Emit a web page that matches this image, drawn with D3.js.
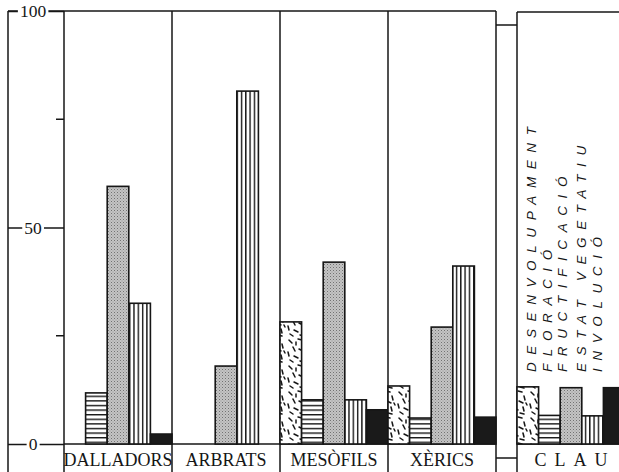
<!DOCTYPE html>
<html>
<head>
<meta charset="utf-8">
<script src="https://cdn.jsdelivr.net/npm/d3@7"></script>
<style>
  body { margin: 0; background: #fff; }
  svg { display: block; }
</style>
</head>
<body>
<script>
// Habitat groups and phenological stages (percentage of observations)
const groups = ["DALLADORS", "ARBRATS", "MESÒFILS", "XÈRICS"];
const stages = ["DESENVOLUPAMENT", "FLORACIÓ", "FRUCTIFICACIÓ", "ESTAT VEGETATIU", "INVOLUCIÓ"];

const desenvolupament = [0, 0, 28.2, 13.4];
const floracio        = [11.8, 0, 10.2, 6];
const fructificacio   = [59.5, 18, 42, 27];
const estatVegetatiu  = [32.5, 81.5, 10.2, 41.1];
const involucio       = [2.3, 0, 7.9, 6.2];

// Key panel: sample bar for each stage
const keyLabel = "CLAU";
const keyValues = [13.2, 6.6, 13, 6.5, 13];

const yTicks = [0, 50, 100];
const yMinorTicks = [25, 75];

const W = 619, H = 472;
const INK = "#161616";
const svg = d3.select("body").append("svg").attr("width", W).attr("height", H);

const series = [desenvolupament, floracio, fructificacio, estatVegetatiu, involucio];

const y = d3.scaleLinear().domain([0, 100]).range([444, 11]);
const xGroup = d3.scaleBand().domain(groups).range([64, 496]).padding(0);
const xStage = d3.scaleBand().domain(stages).range([0, xGroup.bandwidth()]).padding(0);
const keyX0 = 517;

// ---------- fill patterns ----------
const defs = svg.append("defs");

// scattered short dashes
const speck = defs.append("pattern").attr("id", "p0").attr("patternUnits", "userSpaceOnUse")
  .attr("width", 22).attr("height", 26);
speck.append("rect").attr("width", 22).attr("height", 26).attr("fill", "#fff");
const dashes = [
  [3, 2, 6, 5], [12, 1, 16, 2], [18, 6, 19, 10], [7, 9, 9, 13], [2, 14, 3, 18],
  [13, 11, 17, 13], [8, 18, 12, 20], [17, 17, 18, 21], [4, 22, 7, 24], [14, 23, 18, 24],
  [10, 4, 10, 7], [20, 13, 21, 15]
];
speck.selectAll("line").data(dashes).join("line")
  .attr("x1", d => d[0]).attr("y1", d => d[1]).attr("x2", d => d[2]).attr("y2", d => d[3])
  .attr("stroke", INK).attr("stroke-width", 1.5).attr("stroke-linecap", "round");

// horizontal hatching
const hor = defs.append("pattern").attr("id", "p1").attr("patternUnits", "userSpaceOnUse")
  .attr("width", 10).attr("height", 4.6);
hor.append("rect").attr("width", 10).attr("height", 4.6).attr("fill", "#fff");
hor.append("rect").attr("y", 0).attr("width", 10).attr("height", 1.4).attr("fill", INK);

// grey stipple
const grey = defs.append("pattern").attr("id", "p2").attr("patternUnits", "userSpaceOnUse")
  .attr("width", 3).attr("height", 3);
grey.append("rect").attr("width", 3).attr("height", 3).attr("fill", "#c4c4c4");
grey.append("rect").attr("x", 0).attr("y", 0).attr("width", 1).attr("height", 1).attr("fill", "#727272");
grey.append("rect").attr("x", 1.5).attr("y", 1.5).attr("width", 1).attr("height", 1).attr("fill", "#959595");

// vertical hatching
const ver = defs.append("pattern").attr("id", "p3").attr("patternUnits", "userSpaceOnUse")
  .attr("width", 4.3).attr("height", 10);
ver.append("rect").attr("width", 4.3).attr("height", 10).attr("fill", "#fff");
ver.append("rect").attr("x", 0).attr("width", 1.4).attr("height", 10).attr("fill", INK);

const fills = ["url(#p0)", "url(#p1)", "url(#p2)", "url(#p3)", "#1a1a1a"];

// ---------- frame ----------
const frame = svg.append("g").attr("stroke", INK).attr("stroke-width", 1.5).attr("fill", "none");

// panel dividers
const dividers = groups.map(g => xGroup(g)).concat([xGroup.range()[1]]);
frame.selectAll("line.div").data(dividers).join("line").attr("class", "div")
  .attr("x1", d => d).attr("x2", d => d).attr("y1", y(100)).attr("y2", H);
// top and baseline of main box
frame.append("line").attr("x1", 8).attr("x2", xGroup.range()[1]).attr("y1", y(100)).attr("y2", y(100));
frame.append("line").attr("x1", xGroup.range()[0]).attr("x2", xGroup.range()[1]).attr("y1", y(0)).attr("y2", y(0));

// key box
frame.append("line").attr("x1", keyX0).attr("x2", keyX0).attr("y1", y(100) + 1).attr("y2", H);
frame.append("line").attr("x1", keyX0).attr("x2", W).attr("y1", y(100) + 1).attr("y2", y(100) + 1);
frame.append("line").attr("x1", keyX0).attr("x2", W).attr("y1", y(0)).attr("y2", y(0));
// connectors between the boxes
frame.append("line").attr("x1", xGroup.range()[1]).attr("x2", keyX0).attr("y1", 25).attr("y2", 25);
frame.append("line").attr("x1", xGroup.range()[1]).attr("x2", keyX0).attr("y1", 458).attr("y2", 458);

// ---------- y axis ----------
frame.append("line").attr("x1", 8).attr("x2", 8).attr("y1", y(100)).attr("y2", H);

const axis = d3.axisRight(y).tickValues(yTicks).tickSize(56).tickFormat(d3.format("d"));
const axisG = svg.append("g").attr("transform", "translate(8,0)").call(axis);
axisG.select(".domain").remove();
axisG.selectAll(".tick line").attr("stroke", INK).attr("stroke-width", 1.5);
axisG.selectAll(".tick text")
  .attr("x", 25).attr("dy", "0.33em").attr("text-anchor", "middle")
  .attr("font-family", "Liberation Serif, Times New Roman, serif")
  .attr("font-size", 17.5).attr("fill", INK);
axisG.selectAll(".tick").each(function () {
  const t = d3.select(this);
  const bb = t.select("text").node().getBBox();
  t.insert("rect", "text").attr("x", bb.x - 2).attr("y", bb.y).attr("width", bb.width + 4)
    .attr("height", bb.height).attr("fill", "#fff");
});
svg.append("g").selectAll("line").data(yMinorTicks).join("line")
  .attr("x1", 56).attr("x2", 64).attr("y1", d => y(d)).attr("y2", d => y(d))
  .attr("stroke", INK).attr("stroke-width", 1.5);

// ---------- bars ----------
const barData = [];
groups.forEach((g, gi) => stages.forEach((s, si) => {
  const v = series[si][gi];
  if (v > 0) barData.push({ x: xGroup(g) + xStage(s), v, si });
}));
stages.forEach((s, si) => barData.push({ x: keyX0 + xStage(s), v: keyValues[si], si }));

svg.append("g").selectAll("rect").data(barData).join("rect")
  .attr("x", d => d.x).attr("y", d => y(d.v))
  .attr("width", xStage.bandwidth()).attr("height", d => y(0) - y(d.v))
  .attr("fill", d => fills[d.si]).attr("stroke", INK).attr("stroke-width", 1.6);

// ---------- category labels ----------
const serif = "Liberation Serif, Times New Roman, serif";
svg.append("g").selectAll("text").data(groups).join("text")
  .attr("x", d => xGroup(d) + xGroup.bandwidth() / 2).attr("y", 466)
  .attr("text-anchor", "middle").attr("font-family", serif).attr("font-size", 18)
  .attr("fill", INK).text(d => d);
svg.append("text").attr("x", keyX0 + xGroup.bandwidth() / 2 + 4).attr("y", 466)
  .attr("text-anchor", "middle").attr("font-family", serif).attr("font-size", 18)
  .attr("letter-spacing", 8).attr("fill", INK).text(keyLabel);

// ---------- key legend (vertical text) ----------
const legendCols = [536, 552, 567, 586, 602];
svg.append("g").selectAll("text").data(stages).join("text")
  .attr("transform", (d, i) => `translate(${legendCols[i]},372) rotate(-90)`)
  .attr("font-family", "Liberation Sans, Arial, sans-serif").attr("font-style", "italic")
  .attr("font-size", 13.5).attr("letter-spacing", 7.6).attr("fill", INK)
  .text(d => d);
</script>
</body>
</html>
